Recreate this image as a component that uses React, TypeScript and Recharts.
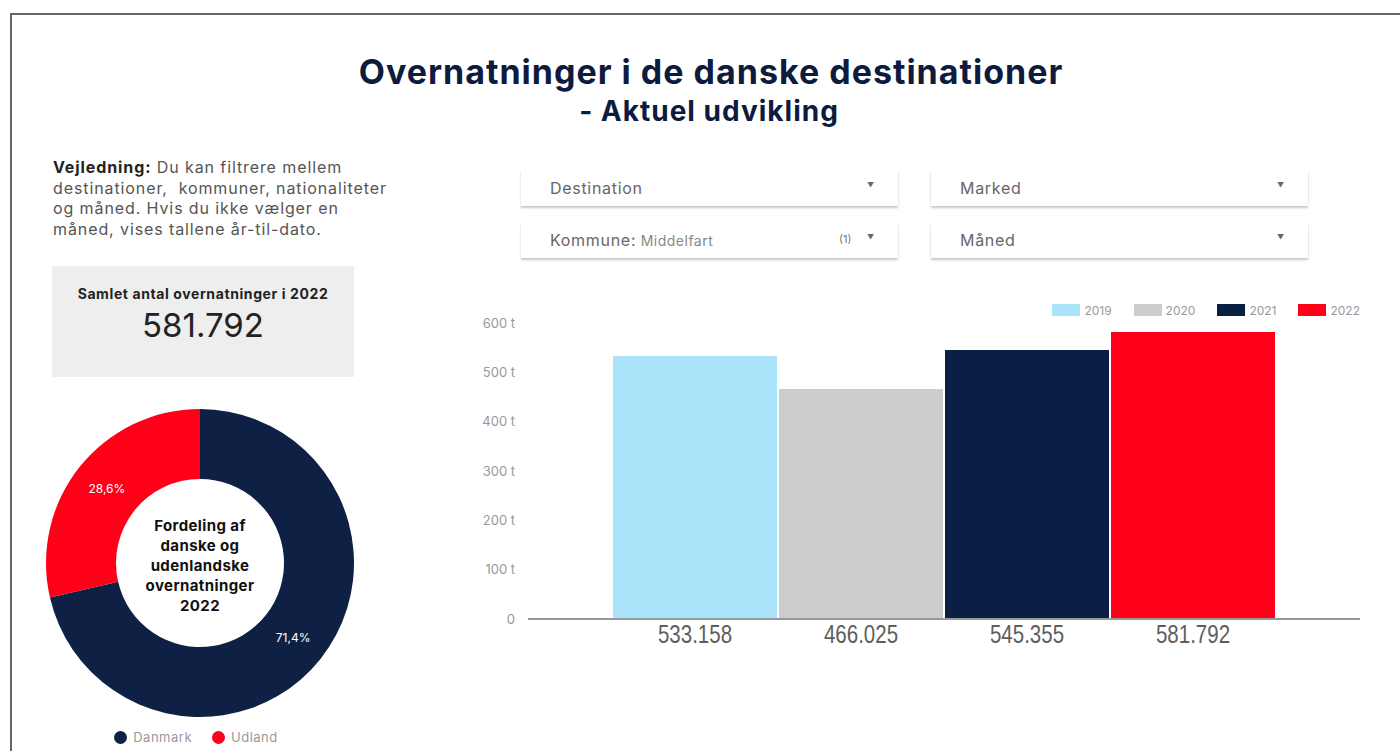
import React from "react";
import { BarChart, Bar, XAxis, YAxis, Legend, LabelList, PieChart, Pie, Cell } from "recharts";

const YEARS = ["2019", "2020", "2021", "2022"];
const STAYS = [533158, 466025, 545355, 581792];
const YEAR_COLORS = ["#a9e4fb", "#cccccc", "#0b1f45", "#ff0019"];
const Y_TICKS = [0, 100000, 200000, 300000, 400000, 500000, 600000];

const MARKETS = ["Danmark", "Udland"];
const MARKET_SHARES = [71.4, 28.6];
const MARKET_COLORS = ["#0e2145", "#ff0019"];

const FILTERS_LEFT = ["Destination", "Kommune"];
const FILTERS_RIGHT = ["Marked", "Måned"];

const FONT = "Inter, 'Open Sans', sans-serif";
const NAVY = "#0d1b3e";

const fmt = (v: number) => String(v).replace(/\B(?=(\d{3})+(?!\d))/g, ".");

const barRow: Record<string, any> = { name: "Overnatninger" };
YEARS.forEach((y, i) => (barRow[y] = STAYS[i]));
const barData = [barRow];

const pieData = MARKETS.map((name, i) => ({ name, value: MARKET_SHARES[i] }));

const RADIAN = Math.PI / 180;

function PieLabel(props: any) {
  const { cx, cy, midAngle, innerRadius, outerRadius, percent } = props;
  const r = (innerRadius + outerRadius) / 2;
  const x = cx + r * Math.cos(-midAngle * RADIAN);
  const y = cy + r * Math.sin(-midAngle * RADIAN);
  return (
    <text x={x} y={y} fill="#ffffff" textAnchor="middle" dominantBaseline="central" fontSize={12} fontFamily={FONT}>
      {(percent * 100).toFixed(1).replace(".", ",")}%
    </text>
  );
}

// value under each bar, squeezed horizontally to mimic the condensed font
function BarValue(props: any) {
  const { x, y, width, height, value } = props;
  return (
    <g transform={`translate(${x + width / 2}, ${y + height + 24}) scale(0.82, 1)`}>
      <text x={0} y={0} textAnchor="middle" fill="#5e5e5e" fontSize={25} fontFamily="'Liberation Sans', Arial, sans-serif">
        {fmt(value)}
      </text>
    </g>
  );
}

function YearLegend(props: any) {
  const items = props.payload || [];
  return (
    <div style={{ display: "flex", justifyContent: "flex-end", alignItems: "center", height: 26 }}>
      {items.map((it: any) => (
        <div key={it.value} style={{ display: "flex", alignItems: "center", marginLeft: 22 }}>
          <span style={{ width: 28, height: 12, background: it.color, display: "inline-block", marginRight: 4 }} />
          <span style={{ fontSize: 12, color: "#999", fontFamily: FONT }}>{it.value}</span>
        </div>
      ))}
    </div>
  );
}

function MarketLegend(props: any) {
  const items = props.payload || [];
  return (
    <div style={{ display: "flex", justifyContent: "center", alignItems: "center", height: 20, paddingLeft: 12 }}>
      {items.map((it: any) => (
        <div key={it.value} style={{ display: "flex", alignItems: "center", marginRight: 20 }}>
          <span style={{ width: 13, height: 13, borderRadius: "50%", background: it.color, display: "inline-block", marginRight: 6 }} />
          <span style={{ fontSize: 13, letterSpacing: 0.5, color: "#999", fontFamily: FONT }}>{it.value}</span>
        </div>
      ))}
    </div>
  );
}

function Dropdown({ left, top, label, extra, count }: any) {
  return (
    <div
      style={{
        position: "absolute",
        left,
        top,
        width: 377,
        height: 36,
        background: "#fff",
        boxShadow: "0 2px 2px rgba(0,0,0,0.22)",
        fontFamily: FONT,
      }}
    >
      <span style={{ position: "absolute", left: 29, top: 8, fontSize: 16, letterSpacing: 0.7, color: "#666" }}>
        {label}
        {extra ? ":" : ""}
        {extra && <span style={{ fontSize: 14, letterSpacing: 0.5, color: "#888" }}> {extra}</span>}
      </span>
      {count && <span style={{ position: "absolute", left: 318, top: 10, fontSize: 11, color: "#777" }}>{count}</span>}
      <span style={{ position: "absolute", left: 346, top: 11, fontSize: 7, color: "#666" }}>▼</span>
    </div>
  );
}

export default function App() {
  return (
    <div style={{ position: "absolute", left: 0, top: 0, width: 1400, height: 751, background: "#fff", overflow: "hidden", fontFamily: FONT }}>
      <div style={{ position: "absolute", left: 10, top: 13, width: 1400, height: 760, borderTop: "2px solid #666", borderLeft: "2px solid #666" }} />

      <div style={{ position: "absolute", left: 0, top: 52, width: 1422, textAlign: "center", fontSize: 34, letterSpacing: 1, lineHeight: "40px", fontWeight: 700, color: NAVY }}>
        Overnatninger i de danske destinationer
      </div>
      <div style={{ position: "absolute", left: 0, top: 94, width: 1418, textAlign: "center", fontSize: 28, letterSpacing: 1, lineHeight: "34px", fontWeight: 700, color: NAVY }}>
        - Aktuel udvikling
      </div>

      <div style={{ position: "absolute", left: 53, top: 157, fontSize: 16, letterSpacing: 0.9, lineHeight: "20.5px", color: "#555" }}>
        <b style={{ color: "#222" }}>Vejledning:</b> Du kan filtrere mellem
        <br />
        destinationer,&nbsp; kommuner, nationaliteter
        <br />
        og måned. Hvis du ikke vælger en
        <br />
        måned, vises tallene år-til-dato.
      </div>

      <div style={{ position: "absolute", left: 52, top: 266, width: 302, height: 111, background: "#eeeeee", textAlign: "center", color: "#222" }}>
        <div style={{ marginTop: 19, fontSize: 14, letterSpacing: 0.6, fontWeight: 700 }}>Samlet antal overnatninger i 2022</div>
        <div style={{ marginTop: 3, fontSize: 33, fontWeight: 400 }}>{fmt(STAYS[STAYS.length - 1])}</div>
      </div>

      <Dropdown left={521} top={170} label={FILTERS_LEFT[0]} />
      <Dropdown left={521} top={222} label={FILTERS_LEFT[1]} extra="Middelfart" count="(1)" />
      <Dropdown left={931} top={170} label={FILTERS_RIGHT[0]} />
      <Dropdown left={931} top={222} label={FILTERS_RIGHT[1]} />

      <div style={{ position: "absolute", left: 20, top: 393 }}>
        <PieChart width={360} height={354} margin={{ top: 0, right: 0, bottom: 0, left: 0 }}>
          <Pie
            data={pieData}
            dataKey="value"
            nameKey="name"
            cx={180}
            cy={170}
            innerRadius={84}
            outerRadius={154}
            startAngle={90}
            endAngle={-270}
            stroke="none"
            label={PieLabel}
            labelLine={false}
            isAnimationActive={false}
          >
            {pieData.map((d, i) => (
              <Cell key={d.name} fill={MARKET_COLORS[i]} />
            ))}
          </Pie>
          <Legend verticalAlign="bottom" align="center" height={20} content={MarketLegend} />
        </PieChart>
        <div
          style={{
            position: "absolute",
            left: 80,
            top: 123,
            width: 200,
            textAlign: "center",
            fontSize: 15,
            letterSpacing: 0.4,
            lineHeight: "20px",
            fontWeight: 700,
            color: "#111",
          }}
        >
          Fordeling af
          <br />
          danske og
          <br />
          udenlandske
          <br />
          overnatninger
          <br />
          2022
        </div>
      </div>

      <div style={{ position: "absolute", left: 460, top: 290 }}>
        <BarChart
          width={910}
          height={370}
          data={barData}
          margin={{ top: 7, right: 10, bottom: 11, left: 0 }}
          barCategoryGap={85}
          barGap={2}
        >
          <XAxis dataKey="name" tick={false} tickLine={false} height={30} axisLine={{ stroke: "#999", strokeWidth: 2 }} />
          <YAxis
            width={68}
            domain={[0, 600000]}
            ticks={Y_TICKS}
            axisLine={false}
            tickLine={false}
            tickMargin={7}
            tick={{ fill: "#999", fontSize: 13, fontFamily: FONT }}
            tickFormatter={(v: number) => (v === 0 ? "0" : `${v / 1000} t`)}
          />
          <Legend verticalAlign="top" align="right" height={26} content={YearLegend} />
          {YEARS.map((y, i) => (
            <Bar key={y} dataKey={y} fill={YEAR_COLORS[i]} isAnimationActive={false}>
              <LabelList dataKey={y} content={BarValue} />
            </Bar>
          ))}
        </BarChart>
      </div>
    </div>
  );
}
